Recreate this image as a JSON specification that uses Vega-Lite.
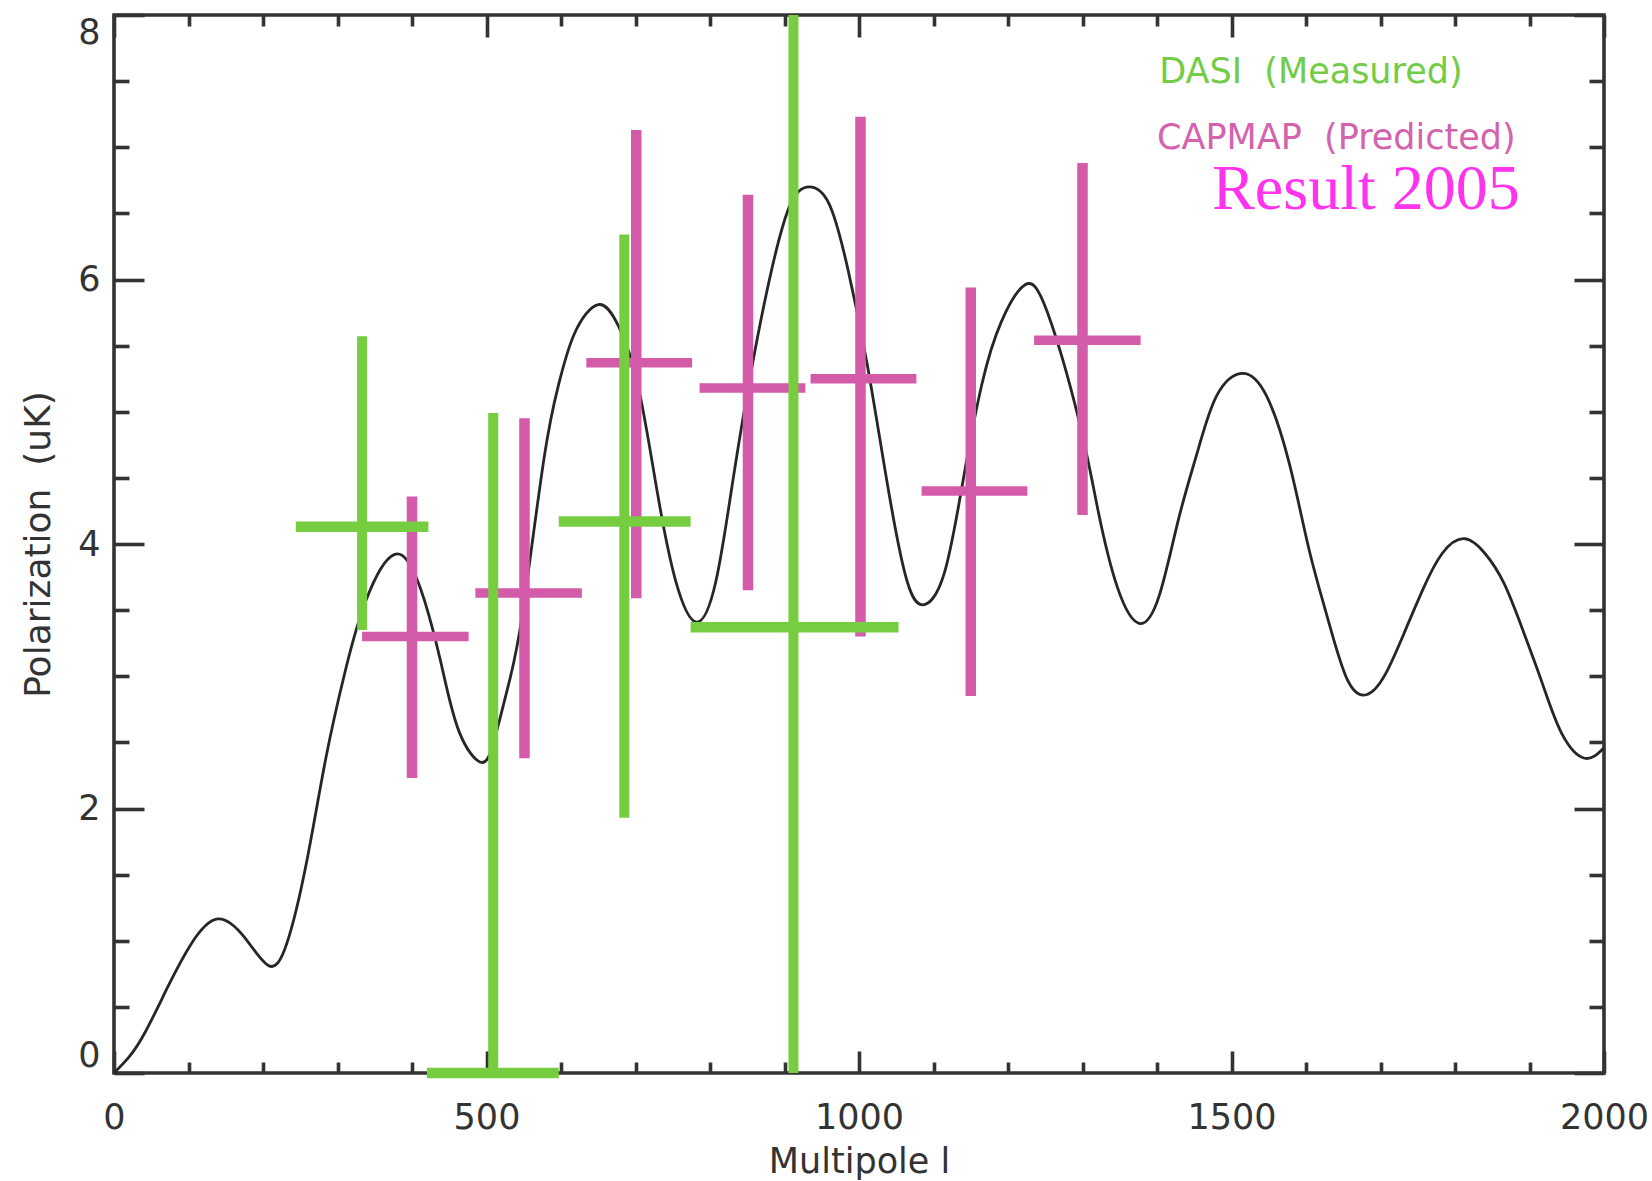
{
  "$schema": "https://vega.github.io/schema/vega-lite/v6.json",
  "width": 1490,
  "height": 1058,
  "autosize": {"type": "none"},
  "padding": {"left": 114, "top": 15, "right": 48, "bottom": 108},
  "background": "white",
  "config": {
    "view": {"stroke": "#333333", "strokeWidth": 3.6},
    "axis": {
      "domain": false,
      "grid": false,
      "labelFont": "DejaVu Sans",
      "labelFontSize": 35,
      "labelColor": "#333333",
      "labelOverlap": false,
      "labelBound": false,
      "titleFont": "DejaVu Sans",
      "titleFontSize": 35,
      "titleFontWeight": "normal",
      "titleColor": "#333333",
      "tickColor": "#333333",
      "tickWidth": 3.6
    }
  },
  "datasets": {
    "theory": [
      {"l": 0, "p": 0}, {"l": 20, "p": 0.12}, {"l": 42, "p": 0.31}, {"l": 73, "p": 0.66},
      {"l": 104, "p": 0.98}, {"l": 139, "p": 1.165}, {"l": 176, "p": 1.02}, {"l": 208, "p": 0.81},
      {"l": 232, "p": 0.98}, {"l": 258, "p": 1.58}, {"l": 284, "p": 2.37}, {"l": 310, "p": 3.03},
      {"l": 338, "p": 3.57}, {"l": 376, "p": 3.92}, {"l": 407, "p": 3.73}, {"l": 428, "p": 3.35},
      {"l": 443, "p": 3.0}, {"l": 464, "p": 2.57}, {"l": 492, "p": 2.35}, {"l": 510, "p": 2.51},
      {"l": 531, "p": 2.97}, {"l": 549, "p": 3.5}, {"l": 577, "p": 4.64},
      {"l": 597, "p": 5.21}, {"l": 618, "p": 5.59}, {"l": 650, "p": 5.81}, {"l": 677, "p": 5.65},
      {"l": 703, "p": 5.21}, {"l": 729, "p": 4.4}, {"l": 754, "p": 3.72},
      {"l": 782, "p": 3.41}, {"l": 808, "p": 3.72}, {"l": 831, "p": 4.49},
      {"l": 857, "p": 5.36}, {"l": 883, "p": 6.08}, {"l": 908, "p": 6.57}, {"l": 933, "p": 6.7},
      {"l": 960, "p": 6.57}, {"l": 985, "p": 6.08}, {"l": 1011, "p": 5.36}, {"l": 1037, "p": 4.49},
      {"l": 1062, "p": 3.77}, {"l": 1085, "p": 3.54},
      {"l": 1114, "p": 3.77}, {"l": 1140, "p": 4.49}, {"l": 1165, "p": 5.21}, {"l": 1191, "p": 5.68},
      {"l": 1223, "p": 5.96}, {"l": 1253, "p": 5.75}, {"l": 1295, "p": 4.94}, {"l": 1321, "p": 4.25},
      {"l": 1347, "p": 3.67}, {"l": 1376, "p": 3.4}, {"l": 1403, "p": 3.61}, {"l": 1429, "p": 4.19},
      {"l": 1455, "p": 4.71}, {"l": 1480, "p": 5.12}, {"l": 1514, "p": 5.29}, {"l": 1547, "p": 5.12},
      {"l": 1578, "p": 4.6}, {"l": 1604, "p": 3.96}, {"l": 1629, "p": 3.44}, {"l": 1655, "p": 2.98},
      {"l": 1681, "p": 2.86}, {"l": 1706, "p": 3.01}, {"l": 1732, "p": 3.33}, {"l": 1758, "p": 3.67},
      {"l": 1783, "p": 3.93}, {"l": 1812, "p": 4.04}, {"l": 1840, "p": 3.93}, {"l": 1866, "p": 3.7},
      {"l": 1891, "p": 3.35}, {"l": 1917, "p": 2.95}, {"l": 1943, "p": 2.57}, {"l": 1974, "p": 2.38},
      {"l": 2000, "p": 2.46}
    ],
    "dasi": [
      {"l": 333, "l_lo": 244, "l_hi": 422, "p": 4.13, "p_lo": 3.35, "p_hi": 5.57},
      {"l": 509, "l_lo": 420, "l_hi": 597, "p": 0.0, "p_lo": 0.0, "p_hi": 4.99},
      {"l": 685, "l_lo": 597, "l_hi": 774, "p": 4.17, "p_lo": 1.93, "p_hi": 6.34},
      {"l": 912, "l_lo": 774, "l_hi": 1053, "p": 3.37, "p_lo": 0.0, "p_hi": 8.0}
    ],
    "capmap": [
      {"l": 400, "l_lo": 333, "l_hi": 476, "p": 3.3, "p_lo": 2.23, "p_hi": 4.36},
      {"l": 551, "l_lo": 485, "l_hi": 628, "p": 3.63, "p_lo": 2.38, "p_hi": 4.95},
      {"l": 701, "l_lo": 634, "l_hi": 776, "p": 5.37, "p_lo": 3.59, "p_hi": 7.13},
      {"l": 851, "l_lo": 786, "l_hi": 928, "p": 5.18, "p_lo": 3.65, "p_hi": 6.64},
      {"l": 1002, "l_lo": 935, "l_hi": 1077, "p": 5.25, "p_lo": 3.3, "p_hi": 7.23},
      {"l": 1150, "l_lo": 1084, "l_hi": 1226, "p": 4.4, "p_lo": 2.85, "p_hi": 5.94},
      {"l": 1300, "l_lo": 1235, "l_hi": 1378, "p": 5.54, "p_lo": 4.22, "p_hi": 6.88}
    ]
  },
  "resolve": {"axis": {"x": "independent", "y": "independent"}},
  "layer": [
    {
      "data": {"name": "theory"},
      "mark": {"type": "line", "color": "#262626", "strokeWidth": 2.8, "interpolate": "natural"},
      "encoding": {
        "x": {
          "field": "l", "type": "quantitative",
          "scale": {"domain": [0, 2000], "nice": false, "zero": false},
          "axis": {
            "orient": "bottom",
            "values": [0,100,200,300,400,500,600,700,800,900,1000,1100,1200,1300,1400,1500,1600,1700,1800,1900,2000],
            "labelExpr": "datum.value % 500 === 0 ? format(datum.value, 'd') : ''",
            "tickSize": {"condition": {"test": "datum.value % 500 === 0", "value": -22}, "value": -11},
            "labelPadding": 49,
            "labelFlush": false,
            "title": "Multipole l",
            "titlePadding": -2
          }
        },
        "y": {
          "field": "p", "type": "quantitative",
          "scale": {"domain": [0, 8], "nice": false, "zero": false},
          "axis": {
            "orient": "left",
            "values": [0,0.5,1,1.5,2,2.5,3,3.5,4,4.5,5,5.5,6,6.5,7,7.5,8],
            "labelExpr": "datum.value % 2 === 0 ? format(datum.value, 'd') : ''",
            "tickSize": {"condition": {"test": "datum.value % 2 === 0", "value": -30}, "value": -15},
            "labelPadding": 44,
            "labelFlush": true,
            "title": "Polarization\u00a0 (uK)",
            "titleFontSize": 36,
            "titlePadding": 20
          }
        }
      }
    },
    {
      "data": {"name": "capmap"},
      "mark": {"type": "rule", "color": "#D45AAA", "strokeWidth": 10.5},
      "encoding": {
        "x": {
          "field": "l", "type": "quantitative",
          "axis": {
            "orient": "top",
            "values": [0,100,200,300,400,500,600,700,800,900,1000,1100,1200,1300,1400,1500,1600,1700,1800,1900,2000],
            "labels": false,
            "tickSize": {"condition": {"test": "datum.value % 500 === 0", "value": -22}, "value": -11},
            "title": null
          }
        },
        "y": {
          "field": "p_lo", "type": "quantitative",
          "axis": {
            "orient": "right",
            "values": [0,0.5,1,1.5,2,2.5,3,3.5,4,4.5,5,5.5,6,6.5,7,7.5,8],
            "labels": false,
            "tickSize": {"condition": {"test": "datum.value % 2 === 0", "value": -30}, "value": -15},
            "title": null
          }
        },
        "y2": {"field": "p_hi"}
      }
    },
    {
      "data": {"name": "capmap"},
      "mark": {"type": "rule", "color": "#D45AAA", "strokeWidth": 9.5},
      "encoding": {
        "x": {"field": "l_lo", "type": "quantitative", "axis": null},
        "x2": {"field": "l_hi"},
        "y": {"field": "p", "type": "quantitative", "axis": null}
      }
    },
    {
      "data": {"name": "dasi"},
      "mark": {"type": "rule", "color": "#76CD3F", "strokeWidth": 10},
      "encoding": {
        "x": {"field": "l", "type": "quantitative", "axis": null},
        "y": {"field": "p_lo", "type": "quantitative", "axis": null},
        "y2": {"field": "p_hi"}
      }
    },
    {
      "data": {"name": "dasi"},
      "mark": {"type": "rule", "color": "#76CD3F", "strokeWidth": 10.5},
      "encoding": {
        "x": {"field": "l_lo", "type": "quantitative", "axis": null},
        "x2": {"field": "l_hi"},
        "y": {"field": "p", "type": "quantitative", "axis": null}
      }
    },
    {
      "data": {"values": [{"label": "DASI\u00a0 (Measured)", "l": 1403, "p": 7.485}]},
      "mark": {"type": "text", "align": "left", "baseline": "alphabetic", "font": "DejaVu Sans", "fontSize": 35, "color": "#72CC45"},
      "encoding": {
        "x": {"field": "l", "type": "quantitative", "axis": null},
        "y": {"field": "p", "type": "quantitative", "axis": null},
        "text": {"field": "label"}
      }
    },
    {
      "data": {"values": [{"label": "CAPMAP\u00a0 (Predicted)", "l": 1400, "p": 6.986}]},
      "mark": {"type": "text", "align": "left", "baseline": "alphabetic", "font": "DejaVu Sans", "fontSize": 35, "color": "#D462AC"},
      "encoding": {
        "x": {"field": "l", "type": "quantitative", "axis": null},
        "y": {"field": "p", "type": "quantitative", "axis": null},
        "text": {"field": "label"}
      }
    },
    {
      "data": {"values": [{"label": "Result 2005", "l": 1474, "p": 6.53}]},
      "mark": {"type": "text", "align": "left", "baseline": "alphabetic", "font": "Liberation Serif", "fontSize": 64, "color": "#FF33EE"},
      "encoding": {
        "x": {"field": "l", "type": "quantitative", "axis": null},
        "y": {"field": "p", "type": "quantitative", "axis": null},
        "text": {"field": "label"}
      }
    }
  ]
}
